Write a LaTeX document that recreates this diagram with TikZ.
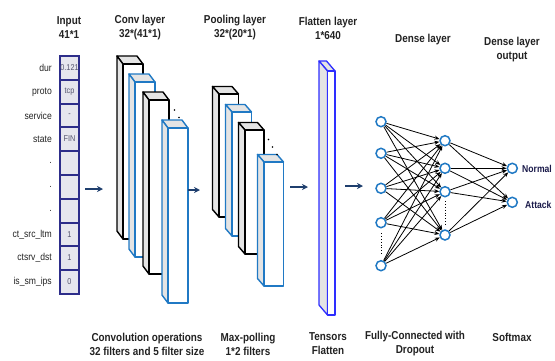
\documentclass[tikz,border=0pt]{standalone}
\usepackage{fontspec}
\setmainfont{Liberation Sans}[FakeStretch=0.86]
\usetikzlibrary{arrows.meta,calc}
\definecolor{navy}{HTML}{1F3F6E}
\definecolor{cblue}{HTML}{2079C4}
\definecolor{fblue}{HTML}{2E2EFF}
\definecolor{facegray}{HTML}{E4E4E4}
\definecolor{cellfill}{HTML}{E6E6EE}
\definecolor{cellline}{HTML}{2D2D8A}
\definecolor{txt}{HTML}{222222}
\definecolor{lbl}{HTML}{1A1A4A}
\definecolor{celltxt}{HTML}{55556F}
\newcommand\prismblock[8]{%
  \filldraw[draw=#7, fill=facegray, line width=#8, line join=round]
    (#1-#5,#2-#6) -- (#1+#3-#5,#2-#6) -- (#1+#3,#2) -- (#1,#2) -- cycle;
  \filldraw[draw=#7, fill=facegray, line width=#8, line join=round]
    (#1-#5,#2-#6) -- (#1,#2) -- (#1,#2+#4) -- (#1-#5,#2+#4-#6) -- cycle;
  \filldraw[draw=#7, fill=white, line width=#8, line join=round]
    (#1,#2) rectangle (#1+#3,#2+#4);
}
\tikzset{
  title/.style={font=\bfseries\fontsize{11.5}{14}\selectfont, text=txt, align=center, inner sep=0pt},
  feat/.style={font=\fontsize{10}{12}\selectfont, text=txt, anchor=east, inner sep=0pt},
  cellval/.style={font=\fontsize{8.5}{10}\selectfont, text=celltxt, inner sep=0pt},
  cellframe/.style={draw=cellline, line width=1.3pt},
  flow/.style={draw=navy, line width=1.2pt, -{Stealth[length=6pt,width=6pt]}},
  neuron/.style={circle, draw=cblue, fill=white, line width=1.5pt, minimum size=10pt, inner sep=0pt},
  edge/.style={draw=black, line width=0.8pt, -{Stealth[length=5pt,width=4pt]}},
  outlbl/.style={font=\bfseries\fontsize{10}{12}\selectfont, text=lbl, anchor=west, inner sep=0pt},
  dotpt/.style={fill=black, circle, inner sep=0pt, minimum size=1.6pt}
}
\begin{document}
\begin{tikzpicture}[x=1pt, y=-1pt]
\useasboundingbox (0,0) rectangle (555,360);

% titles
\node[title] (tin) at (69,28) {Input\\41*1};
\node[title] (tconv) at (140,28) {Conv layer\\32*(41*1)};
\node[title] (tpool) at (235,28) {Pooling layer\\32*(20*1)};
\node[title] (tflat) at (328,28) {Flatten layer\\1*640};
\node[title] (tdense) at (423,40) {Dense layer};
\node[title] (tout) at (512,50) {Dense layer\\output};

% bottom captions
\node[title] (bconv) at (147,344) {Convolution operations\\32 filters and 5 filter size};
\node[title] (bpool) at (248,344) {Max-polling\\1*2 filters};
\node[title] (bflat) at (328,344) {Tensors\\Flatten};
\node[title] (bdense) at (415,344) {Fully-Connected with\\Dropout};
\node[title] (bsoft) at (512,337) {Softmax};

% input column
\fill[cellfill] (60,56) rectangle (79,294);
\foreach \yy in {80,104,127,151,175,199,223,246,270} \draw[cellframe] (60,\yy) -- (79,\yy);
\draw[cellframe] (60,56) rectangle (79,294);
\foreach \i/\yc/\f/\v in {0/68/dur/0.121, 1/92/proto/tcp, 2/115.5/service/-, 3/139/state/FIN, 4/163/./, 5/187/./, 6/211/./, 7/234.5/ct\_src\_ltm/1, 8/258/ctsrv\_dst/1, 9/282/is\_sm\_ips/0} {
  \node[cellval] (v\i) at (69.5,\yc) {\v};
  \node[feat] (f\i) at (52,\yc) {\f};
}

% conv blocks
\prismblock{123}{64}{20}{175}{6}{8}{black}{1.4pt}
\prismblock{135}{82}{20}{175}{6}{8}{cblue}{1.4pt}
\prismblock{149}{100}{20}{174}{6}{8}{black}{1.4pt}
\prismblock{168}{128}{20}{175}{6}{8}{cblue}{1.4pt}
\node[dotpt] (cd1) at (169,102) {};
\node[dotpt] (cd2) at (174.5,110) {};
\node[dotpt] (cd3) at (179,117.5) {};

% pooling blocks
\prismblock{219}{94}{19.5}{123}{6.5}{7.5}{black}{1.4pt}
\prismblock{232}{112}{19.5}{124}{6.5}{7.5}{cblue}{1.4pt}
\prismblock{245}{130}{19}{124}{6.5}{7.5}{black}{1.4pt}
\prismblock{264}{162}{19.5}{124}{6.5}{7.5}{cblue}{1.4pt}
\node[dotpt] (pd1) at (268.5,139.5) {};
\node[dotpt] (pd2) at (272.5,147) {};
\node[dotpt] (pd3) at (277,154.5) {};

% flatten
\prismblock{327.5}{71}{7.5}{244}{8.5}{10}{fblue}{1.3pt}

% flow arrows
\coordinate (a1s) at (85,189); \coordinate (a1e) at (103,189);
\coordinate (a2s) at (188,190); \coordinate (a2e) at (200,190);
\coordinate (a3s) at (290,187); \coordinate (a3e) at (308,187);
\coordinate (a4s) at (345,186); \coordinate (a4e) at (363,186);
\draw[flow] (a1s) -- (a1e);
\draw[flow] (a2s) -- (a2e);
\draw[flow] (a3s) -- (a3e);
\draw[flow] (a4s) -- (a4e);

% dense network
\node[neuron] (n1) at (381,121.7) {};
\node[neuron] (n2) at (381,153.3) {};
\node[neuron] (n3) at (381,188.3) {};
\node[neuron] (n4) at (381,222.7) {};
\node[neuron] (n5) at (381,265.7) {};
\node[neuron] (m1) at (445,140.7) {};
\node[neuron] (m2) at (445,168.3) {};
\node[neuron] (m3) at (445,191.7) {};
\node[neuron] (m4) at (445,235) {};
\node[neuron] (o1) at (512.3,168.3) {};
\node[neuron] (o2) at (512.3,202.3) {};
\foreach \i in {1,...,5} \foreach \j in {1,...,4} \draw[edge] (n\i) -- (m\j);
\foreach \j in {1,...,4} \foreach \k in {1,2} \draw[edge] (m\j) -- (o\k);
\draw[dotted, line width=0.8pt] ($(n4.south)+(0,5)$) -- ($(n5.north)+(0,-5)$);
\draw[dotted, line width=0.8pt] ($(m3.south)+(0,4)$) -- ($(m4.north)+(0,-4)$);
\node[outlbl] (lnorm) at (522,169) {Normal};
\node[outlbl] (latt) at (525,205) {Attack};
\end{tikzpicture}
\end{document}
